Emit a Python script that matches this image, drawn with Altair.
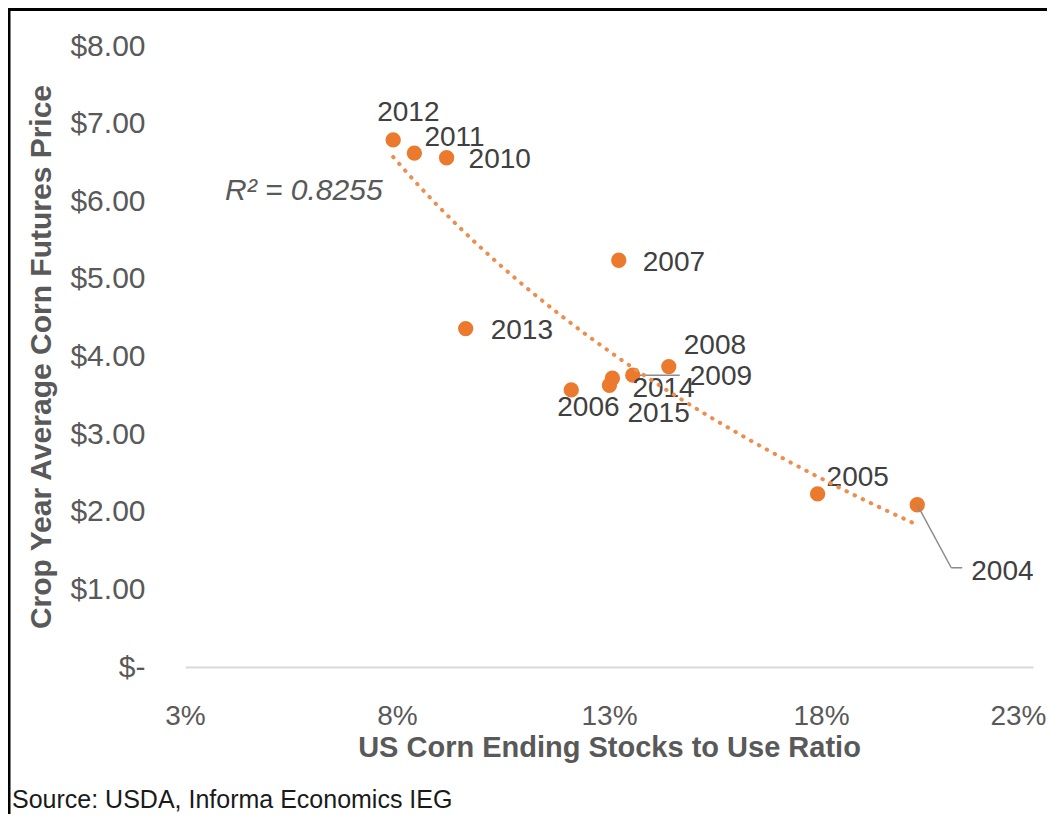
import altair as alt
import pandas as pd

# ---- data ----
years = ["2004", "2005", "2006", "2007", "2008", "2009",
         "2010", "2011", "2012", "2013", "2014", "2015"]
stocks_to_use = [20.27, 17.92, 12.11, 13.23, 14.41, 13.56,
                 9.17, 8.41, 7.91, 9.62, 13.08, 13.01]
price = [2.09, 2.23, 3.57, 5.24, 3.87, 3.76,
         6.56, 6.62, 6.79, 4.36, 3.72, 3.63]

x_ticks = [3, 8, 13, 18, 23]
y_ticks = [0, 1, 2, 3, 4, 5, 6, 7, 8]

r2_text = "R² = 0.8255"
x_title = "US Corn Ending Stocks to Use Ratio"
y_title = "Crop Year Average Corn Futures Price"
source_text = "Source: USDA, Informa Economics IEG"

df = pd.DataFrame({"year": years, "ratio": stocks_to_use, "price": price})

# label placement (pixel offsets from the point): dx, dy
label_offsets = {
    "2004": (54, 67), "2005": (9, -16), "2006": (-14, 18), "2007": (24, 3),
    "2008": (15, -21), "2009": (57, 2), "2010": (22, 2), "2011": (10, -15),
    "2012": (-16, -27), "2013": (25, 2), "2014": (20, 11), "2015": (18, 29),
}

FONT = "Liberation Sans"
ORANGE = "#EC7A2E"
TEXT = "#404040"
AXIS_TXT = "#595959"

W, H = 848, 621
PAD = {"left": 177, "top": 38, "right": 14, "bottom": 147}
LAST_X = x_ticks[-1]

base = alt.Chart(df)

xenc = alt.X(
    "ratio:Q",
    scale=alt.Scale(domain=[3, 23], nice=False, zero=False),
    axis=alt.Axis(
        values=x_ticks, labelExpr="datum.value + '%'", title=x_title,
        grid=False, ticks=False, domainColor="#D9D9D9", domainWidth=2,
        labelFont=FONT, labelFontSize=28, labelColor=AXIS_TXT, labelPadding=35,
        labelFlush=False,
        labelAlign={"condition": {"test": f"datum.value == {LAST_X}", "value": "right"},
                    "value": "center"},
        labelOffset={"condition": {"test": f"datum.value == {LAST_X}", "value": 13},
                     "value": 0},
        titleFont=FONT, titleFontSize=29, titleFontWeight="bold", titleColor=AXIS_TXT,
        titleY=80, titleBaseline="middle",
    ),
)
yenc = alt.Y(
    "price:Q",
    scale=alt.Scale(domain=[0, 8], nice=False),
    axis=alt.Axis(
        values=y_ticks,
        labelExpr="datum.value == 0 ? '$-\u00a0\u00a0\u00a0' : '$' + format(datum.value, '.2f')",
        title=y_title, grid=False, ticks=False, domain=False,
        labelFont=FONT, labelFontSize=30, labelColor=AXIS_TXT, labelPadding=40,
        titleFont=FONT, titleFontSize=30, titleFontWeight="bold", titleColor=AXIS_TXT,
        titleAngle=-90, titleX=-144, titleY=H / 2, titleAlign="center",
        titleBaseline="middle",
    ),
)

points = base.mark_circle(size=235, color=ORANGE, opacity=1).encode(x=xenc, y=yenc)

trend = base.transform_regression(
    "ratio", "price", method="log"
).mark_line(
    color="#EE8E4E", strokeWidth=4, strokeDash=[0.5, 8.5], strokeCap="round"
).encode(x="ratio:Q", y="price:Q")

label_layers = []
for yr, (dx, dy) in label_offsets.items():
    label_layers.append(
        base.transform_filter(alt.datum.year == yr).mark_text(
            align="left", baseline="middle", dx=dx, dy=dy,
            font=FONT, fontSize=28, color=TEXT,
        ).encode(x="ratio:Q", y="price:Q", text="year:N")
    )

# leader lines
lead_2009 = base.transform_filter(alt.datum.year == "2009").mark_rule(
    color="#8C8C8C", strokeWidth=1.5, xOffset=7, x2Offset=47
).encode(x="ratio:Q", y="price:Q", x2="ratio:Q", y2="price:Q")

lead_2004a = base.transform_filter(alt.datum.year == "2004").mark_rule(
    color="#8C8C8C", strokeWidth=1.5, x2Offset=34, y2Offset=63
).encode(x="ratio:Q", y="price:Q", x2="ratio:Q", y2="price:Q")
lead_2004b = base.transform_filter(alt.datum.year == "2004").mark_rule(
    color="#8C8C8C", strokeWidth=1.5, xOffset=34, yOffset=63, x2Offset=45, y2Offset=63
).encode(x="ratio:Q", y="price:Q", x2="ratio:Q", y2="price:Q")

r2 = alt.Chart(pd.DataFrame({"t": [r2_text]})).mark_text(
    align="left", baseline="middle", font=FONT, fontSize=30, fontStyle="italic",
    color=AXIS_TXT,
).encode(text="t:N", x=alt.value(40), y=alt.value(145))

source = alt.Chart(pd.DataFrame({"t": [source_text]})).mark_text(
    align="left", baseline="middle", font=FONT, fontSize=25, color="#1A1A1A",
).encode(text="t:N", x=alt.value(-173), y=alt.value(754))

frame_df = pd.DataFrame({"k": [0]})
frame_left = alt.Chart(frame_df).mark_rule(color="#000000", strokeWidth=3).encode(
    x=alt.value(-176), y=alt.value(-40), y2=alt.value(H + PAD["bottom"])
)
frame_top = alt.Chart(frame_df).mark_rule(color="#000000", strokeWidth=3).encode(
    x=alt.value(-180), x2=alt.value(W + PAD["right"]), y=alt.value(-36.5)
)

chart = alt.layer(
    frame_left, frame_top, points, *label_layers, lead_2009, lead_2004a, lead_2004b,
    trend, r2, source,
).properties(
    width=W, height=H,
    autosize=alt.AutoSizeParams(type="none"),
    padding=PAD,
    background="white",
).configure_view(stroke=None)

chart.save("out.html", embed_options={"renderer": "svg", "actions": False})
